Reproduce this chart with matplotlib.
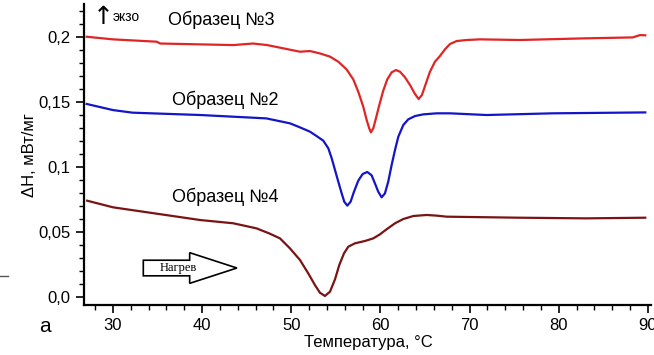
import matplotlib.pyplot as plt
from matplotlib.patches import FancyArrow
from matplotlib.lines import Line2D
from matplotlib.ticker import FixedLocator, MultipleLocator

plt.rcParams['font.family'] = ['Liberation Sans', 'DejaVu Sans']

# Образец №3 (red)
t3 = [27.05, 30.0, 34.9, 35.3, 43.5, 45.7, 47.3, 49.1, 50.97, 52.09, 53.21, 54.34, 55.27,
      56.2, 56.95, 57.51, 58.07, 58.45, 58.74, 58.93, 59.19, 59.49, 59.87, 60.31, 60.76,
      61.25, 61.74, 62.19, 62.75, 63.31, 63.87, 64.28, 64.65, 65.1, 65.55, 66.11, 66.67,
      67.23, 67.79, 68.54, 69.67, 71.16, 75.6, 83.1, 88.3, 89.1, 89.7]
h3 = [0.2002, 0.1982, 0.1964, 0.195, 0.1938, 0.195, 0.1938, 0.1913, 0.1887, 0.1892, 0.1874,
      0.1849, 0.181, 0.1751, 0.1674, 0.1579, 0.1464, 0.1362, 0.1297, 0.1267, 0.1297, 0.1374,
      0.1477, 0.1587, 0.1674, 0.1728, 0.1746, 0.1733, 0.169, 0.1631, 0.1562, 0.1523, 0.1554,
      0.1644, 0.1733, 0.181, 0.1854, 0.1905, 0.1946, 0.1969, 0.1977, 0.1982, 0.1977, 0.199,
      0.1997, 0.2015, 0.2013]

# Образец №2 (blue)
t2 = [27.05, 30.0, 32.2, 39.8, 47.2, 49.85, 50.97, 52.09, 52.84, 53.58, 54.15, 54.53, 54.9,
      55.27, 55.65, 55.94, 56.28, 56.65, 57.03, 57.51, 58.0, 58.52, 59.01, 59.38, 59.75,
      60.13, 60.5, 60.87, 61.25, 61.63, 62.0, 62.56, 63.12, 63.87, 64.8, 66.3, 67.79,
      71.9, 79.3, 89.7]
h2 = [0.1485, 0.1438, 0.1418, 0.14, 0.1374, 0.1336, 0.1305, 0.1272, 0.1238, 0.1203, 0.1144,
      0.1067, 0.0977, 0.0887, 0.0797, 0.0733, 0.0703, 0.0733, 0.081, 0.0895, 0.0946, 0.0962,
      0.0936, 0.0874, 0.081, 0.0767, 0.0797, 0.0887, 0.1015, 0.1131, 0.1233, 0.1323, 0.1367,
      0.1392, 0.1405, 0.1413, 0.1413, 0.14, 0.1413, 0.142]

# Образец №4 (dark red)
t4 = [27.1, 30.0, 34.1, 39.8, 43.5, 46.1, 47.5, 48.73, 49.85, 50.97, 51.9, 52.65, 53.21,
      53.77, 54.34, 54.9, 55.38, 55.91, 56.39, 57.14, 58.26, 59.19, 59.94, 60.69, 61.63,
      62.56, 63.68, 65.18, 66.3, 67.42, 75.6, 83.1, 89.7]
h4 = [0.0741, 0.069, 0.0649, 0.0592, 0.0567, 0.0528, 0.049, 0.0451, 0.0374, 0.0285, 0.0182,
      0.0092, 0.0033, 0.0008, 0.0041, 0.0136, 0.0246, 0.0336, 0.0387, 0.0413, 0.0431, 0.0451,
      0.0482, 0.0521, 0.0567, 0.06, 0.0623, 0.0631, 0.0626, 0.0618, 0.061, 0.0605, 0.061]

x_ticks = [30, 40, 50, 60, 70, 80, 90]
y_ticks = [0.0, 0.05, 0.1, 0.15, 0.2]
y_tick_labels = ['0,0', '0,05', '0,1', '0,15', '0,2']

fig = plt.figure(figsize=(6.54, 3.55), dpi=100)
ax = fig.add_axes([84 / 654, 1 - 305 / 355, 567 / 654, 301 / 355])

ax.plot(t3, h3, color='#e02525', lw=1.6)
ax.plot(t2, h2, color='#1414c8', lw=1.6)
ax.plot(t4, h4, color='#7a1414', lw=1.6)

ax.set_xlim(26.75, 90.34)
ax.set_ylim(-0.00615, 0.2254)

ax.spines['top'].set_visible(False)
ax.spines['right'].set_visible(False)
for s in ('left', 'bottom'):
    ax.spines[s].set_linewidth(1.6)

ax.xaxis.set_major_locator(FixedLocator(x_ticks))
ax.xaxis.set_minor_locator(MultipleLocator(2))
ax.set_xticklabels([str(v) for v in x_ticks])
ax.yaxis.set_major_locator(FixedLocator(y_ticks))
ax.yaxis.set_minor_locator(MultipleLocator(0.01))
ax.set_yticklabels(y_tick_labels)
ax.tick_params(which='major', direction='out', length=6, width=1.2, labelsize=12, color='black')
ax.tick_params(which='minor', direction='out', length=3.5, width=1.0)

# labels
ax.text(36.2, 0.213, 'Образец №3', fontsize=13, va='center')
ax.text(36.6, 0.1515, 'Образец №2', fontsize=13, va='center')
ax.text(36.6, 0.077, 'Образец №4', fontsize=13, va='center')
ax.text(28.9, 0.2155, '↑', fontsize=18, va='center', ha='center', family=['DejaVu Sans'])
ax.text(30.0, 0.2152, 'экзо', fontsize=10, va='center', ha='left')

arrow = FancyArrow(33.4, 0.0223, 10.5, 0, width=0.012, head_width=0.0236, head_length=5.3,
                   length_includes_head=True, fc='white', ec='black', lw=1.2)
ax.add_patch(arrow)
ax.text(35.2, 0.0223, 'Нагрев', family='Liberation Serif', fontsize=9, va='center', ha='left')

fig.text(368 / 654, 1 - 343 / 355, 'Температура, °С', fontsize=12, ha='center', va='center')
fig.text(30 / 654, 1 - 155 / 355, 'ΔН, мВт/мг', fontsize=12, ha='center', va='center', rotation=90)
fig.text(45 / 654, 1 - 326 / 355, 'а', fontsize=15, ha='center', va='center')
fig.add_artist(Line2D([0 / 654, 8 / 654], [1 - 276 / 355, 1 - 276 / 355], color='#555555', lw=1.0))

fig.savefig('out.png', dpi=100)
